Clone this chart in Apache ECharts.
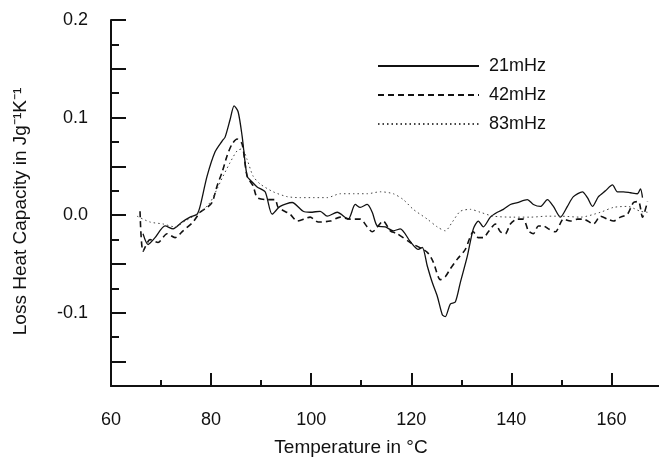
<!DOCTYPE html>
<html>
<head>
<meta charset="utf-8">
<script src="https://cdn.jsdelivr.net/npm/echarts@6/dist/echarts.min.js"></script>
<style>html,body{margin:0;padding:0;background:#fff}#c{width:659px;height:462px}</style>
</head>
<body>
<div id="c"></div>
<script>
// ---- data ----
const seriesNames = ['21mHz', '42mHz', '83mHz'];

const temp21 = [66.4,67.4,68.8,70.8,72.4,74.2,75.8,77.2,77.8,79.2,80.8,82.2,82.8,83.8,84.6,85.4,86.2,87.2,88.2,89.2,90.8,92.2,93.8,96.2,98.4,99.8,101.8,103.2,105.2,107.4,108.8,109.8,111.2,112.2,113.2,114.8,116.4,117.8,119.8,121.4,122.2,123.2,124.2,125.2,126.2,126.8,127.8,128.8,129.8,131.2,132.4,133.4,134.4,135.8,137.2,138.4,139.8,141.2,143.2,144.4,145.8,147.2,148.4,149.8,151.2,152.4,154.2,155.2,156.2,157.4,158.8,160.2,161.2,162.4,163.8,165.2,165.8,166.2];
const loss21 = [-0.019,-0.030,-0.023,-0.011,-0.014,-0.007,-0.002,0.001,0.009,0.040,0.065,0.076,0.080,0.098,0.112,0.106,0.081,0.040,0.034,0.029,0.024,0.001,0.009,0.013,0.004,0.003,0.004,-0.001,0.003,-0.004,0.011,0.008,0.011,0.003,-0.011,-0.012,-0.016,-0.014,-0.027,-0.035,-0.033,-0.052,-0.069,-0.083,-0.102,-0.104,-0.091,-0.089,-0.069,-0.042,-0.014,-0.006,-0.012,-0.002,0.003,0.006,0.011,0.013,0.016,0.011,0.009,0.016,0.009,-0.002,0.009,0.019,0.024,0.018,0.009,0.019,0.025,0.031,0.024,0.024,0.023,0.022,0.027,0.018];

const temp42 = [65.8,66.4,67.8,69.4,71.2,72.8,74.4,76.4,77.8,79.2,80.2,81.2,82.2,83.2,84.2,85.2,86.2,87.2,88.4,89.2,90.8,92.8,93.4,95.8,97.2,99.8,101.4,103.8,105.8,107.8,109.8,111.2,112.2,114.4,115.8,117.2,119.8,123.2,124.4,125.8,126.8,127.8,129.2,130.8,132.4,133.4,134.4,135.4,136.8,137.8,138.8,139.8,141.2,142.4,143.4,144.4,145.4,146.4,147.4,148.8,150.4,151.8,153.2,154.4,156.4,157.8,159.2,160.4,161.8,163.2,164.4,165.4,166.2,167.2];
const loss42 = [0.004,-0.037,-0.025,-0.028,-0.019,-0.023,-0.016,-0.007,0.003,0.008,0.013,0.030,0.044,0.061,0.073,0.078,0.073,0.040,0.030,0.018,0.016,0.016,0.008,0.001,-0.006,-0.002,-0.007,-0.006,-0.002,-0.004,-0.004,-0.012,-0.017,-0.006,-0.016,-0.019,-0.028,-0.038,-0.048,-0.066,-0.063,-0.055,-0.045,-0.035,-0.017,-0.023,-0.023,-0.017,-0.009,-0.017,-0.019,-0.009,-0.004,-0.004,-0.016,-0.019,-0.011,-0.011,-0.014,-0.017,-0.004,-0.006,-0.004,-0.004,-0.009,-0.001,-0.004,-0.006,-0.002,0.001,0.013,0.014,-0.002,0.014];

const temp83 = [65.2,67.8,70.4,72.8,74.8,77.8,79.8,81.2,82.4,83.8,85.2,86.2,87.2,88.4,89.8,92.4,95.2,97.8,100.4,103.2,105.8,108.4,111.2,113.8,116.4,118.4,120.4,123.2,125.2,126.8,128.2,129.8,131.8,133.8,136.4,140.4,143.8,147.2,149.8,153.8,157.8,160.4,163.2,165.8,167.2];
const loss83 = [-0.001,-0.007,-0.009,-0.012,-0.006,0.003,0.013,0.027,0.040,0.054,0.066,0.068,0.057,0.040,0.032,0.024,0.019,0.018,0.018,0.018,0.022,0.022,0.022,0.024,0.022,0.016,0.006,-0.004,-0.012,-0.016,-0.007,0.004,0.006,0.003,-0.001,-0.002,-0.002,-0.001,-0.001,-0.002,0.003,0.008,0.009,0.004,0.003];

const xMajorTicks = [60, 80, 100, 120, 140, 160];
const xMinorTicks = [70, 90, 110, 130, 150];
const yLabelTicks = [-0.1, 0.0, 0.1, 0.2];
const yLongTicks = [-0.15, -0.1, -0.05, 0.0, 0.05, 0.1, 0.15, 0.2];
const yShortTicks = [-0.125, -0.075, -0.025, 0.025, 0.075, 0.125, 0.175];

const pairs = (xs, ys) => xs.map((x, i) => [x, ys[i]]);

const FONT = 'Liberation Sans, Arial, sans-serif';
const INK = '#111';

const chart = echarts.init(document.getElementById('c'), null, {renderer: 'canvas'});
const yBase = {
  type: 'value', min: -0.175, max: 0.2, position: 'left', splitLine: {show: false}
};
const xBase = {
  type: 'value', min: 60, max: 169.5, position: 'bottom', splitLine: {show: false}
};
chart.setOption({
  backgroundColor: '#fff',
  animation: false,
  grid: {left: 111, right: 0, top: 20, bottom: 75, containLabel: false},
  legend: {
    orient: 'vertical', left: 372, top: 51,
    itemWidth: 101, itemHeight: 14, itemGap: 9,
    data: seriesNames,
    itemStyle: {opacity: 0},
    textStyle: {fontFamily: FONT, fontSize: 18, color: INK, lineHeight: 20, padding: [0, 0, 0, 5]}
  },
  xAxis: [
    Object.assign({}, xBase, {
      name: 'Temperature in °C', nameLocation: 'middle', nameGap: 52,
      nameTextStyle: {fontFamily: FONT, fontSize: 19, color: INK, padding: [0, 68, 0, 0]},
      axisLine: {show: true, onZero: false, lineStyle: {color: INK, width: 2}},
      axisTick: {show: true, inside: true, length: 13, lineStyle: {color: INK, width: 2}, customValues: xMajorTicks},
      axisLabel: {show: true, margin: 25, fontFamily: FONT, fontSize: 18, color: INK, customValues: xMajorTicks}
    }),
    Object.assign({}, xBase, {
      axisLine: {show: false, onZero: false},
      axisTick: {show: true, inside: true, length: 6, lineStyle: {color: INK, width: 2}, customValues: xMinorTicks},
      axisLabel: {show: false}
    })
  ],
  yAxis: [
    Object.assign({}, yBase, {
      name: 'Loss Heat Capacity in Jg⁻¹K⁻¹', nameLocation: 'middle', nameGap: 81, nameRotate: 90,
      nameTextStyle: {fontFamily: FONT, fontSize: 19, color: INK, padding: [0, 17, 0, 0]},
      axisLine: {show: true, onZero: false, lineStyle: {color: INK, width: 2}},
      axisTick: {show: true, inside: true, length: 15, lineStyle: {color: INK, width: 2}, customValues: yLongTicks},
      axisLabel: {show: true, margin: 23, fontFamily: FONT, fontSize: 18, color: INK, customValues: yLabelTicks,
        formatter: v => (Math.abs(v) < 1e-9 ? 0 : v).toFixed(1)}
    }),
    Object.assign({}, yBase, {
      axisLine: {show: false, onZero: false},
      axisTick: {show: true, inside: true, length: 8, lineStyle: {color: INK, width: 2}, customValues: yShortTicks},
      axisLabel: {show: false}
    })
  ],
  series: [
    {name: seriesNames[0], type: 'line', data: pairs(temp21, loss21), symbol: 'none', smooth: 0.25,
     lineStyle: {color: INK, width: 1.3, type: 'solid'}, itemStyle: {color: INK}},
    {name: seriesNames[1], type: 'line', data: pairs(temp42, loss42), symbol: 'none', smooth: 0.25,
     lineStyle: {color: INK, width: 1.6, type: [6, 4]}, itemStyle: {color: INK}},
    {name: seriesNames[2], type: 'line', data: pairs(temp83, loss83), symbol: 'none', smooth: 0.25,
     lineStyle: {color: '#444', width: 1, type: [1.5, 3]}, itemStyle: {color: '#444'}}
  ]
});
</script>
</body>
</html>
